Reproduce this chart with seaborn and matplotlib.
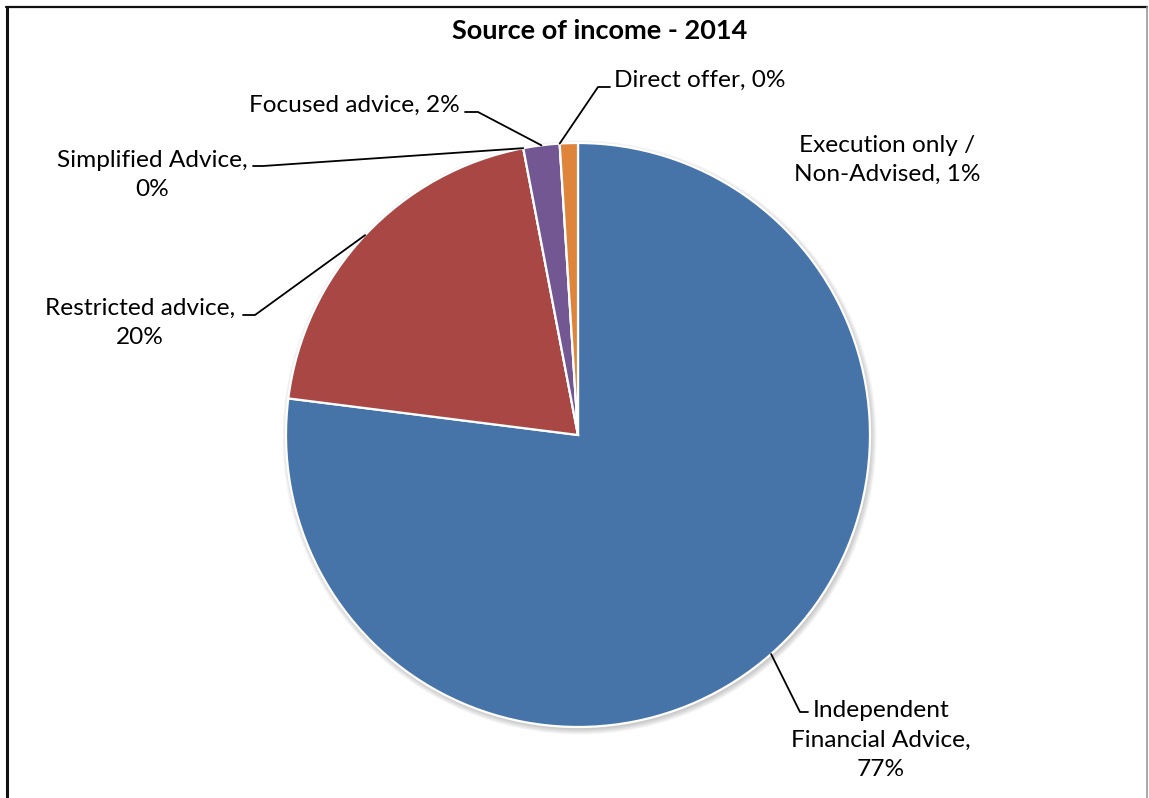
import matplotlib
matplotlib.use("Agg")
import matplotlib.pyplot as plt
from matplotlib.patches import Circle
from matplotlib.lines import Line2D
import numpy as np
import seaborn as sns

# ---- data ----
categories = [
    "Independent Financial Advice",
    "Restricted advice",
    "Simplified Advice",
    "Focused advice",
    "Direct offer",
    "Execution only / Non-Advised",
]
shares = [77, 20, 0, 2, 0, 1]
# how each category name is broken across lines in its label
label_names = [
    "Independent\nFinancial Advice",
    "Restricted advice",
    "Simplified Advice",
    "Focused advice",
    "Direct offer",
    "Execution only /\nNon-Advised",
]
value_breaks = ["\n", "\n", "\n", " ", " ", " "]
title = "Source of income - 2014"

# ---- style ----
sns.set_theme(style="white")
plt.rcParams["font.family"] = ["Lato", "DejaVu Sans"]
palette = sns.color_palette(["#4674A9", "#A94745", "#9BBB59", "#735792", "#4BACC6", "#DE853B"])

W, H = 1149, 798
fig = plt.figure(figsize=(W / 100, H / 100), dpi=100)
ax = fig.add_axes([0, 0, 1, 1])

cx, cy, R = 578, H - 435, 292

# soft drop shadow under the pie
for k in range(6):
    ax.add_patch(Circle((cx + 1.5, cy - 2.5), R + k, color="#000000", alpha=0.035,
                        lw=0, zorder=0))

wedges, _ = ax.pie(
    shares,
    colors=palette,
    startangle=90,
    counterclock=False,
    center=(cx, cy),
    radius=R,
    wedgeprops=dict(edgecolor="white", linewidth=1.6),
)
for w in wedges:
    w.set_zorder(2)

ax.set_xlim(0, W)
ax.set_ylim(0, H)
ax.set_aspect("equal")
ax.axis("off")

# label placement in pixel space (x, y from top); elbow / end of leader line
layout = [
    dict(text=(881, 740), ha="center", elbow=(800, 712), end=(808, 712)),
    dict(text=(140, 323), ha="center", elbow=(255, 315), end=(243, 315)),
    dict(text=(152, 175), ha="center", elbow=(263, 166), end=(253, 166)),
    dict(text=(460, 105), ha="right", elbow=(478, 112), end=(465, 112)),
    dict(text=(614, 80), ha="left", elbow=(598, 87), end=(610, 87)),
    dict(text=(887, 160), ha="center", elbow=None, end=None),
]

fs = 17.6
for w, name, brk, val, lay in zip(wedges, label_names, value_breaks, shares, layout):
    label = f"{name},{brk}{val}%"
    tx, ty = lay["text"]
    ax.text(tx, H - ty, label, ha=lay["ha"], va="center", fontsize=fs,
            color="black", linespacing=1.5, multialignment="center", zorder=5)
    if lay["elbow"] is not None:
        mid = np.deg2rad((w.theta1 + w.theta2) / 2)
        ax_pt = (cx + R * np.cos(mid), cy + R * np.sin(mid))
        ex, ey = lay["elbow"]
        nx, ny = lay["end"]
        ax.add_line(Line2D([ax_pt[0], ex, nx], [ax_pt[1], H - ey, H - ny],
                           color="black", lw=1.3, zorder=4))

ax.text(600, H - 31, title, ha="center", va="center", fontsize=19.5,
        fontweight="bold", color="black")

# chart frame
fig.add_artist(Line2D([7 / W, 7 / W], [0, 1 - 7 / H], color="#111111", lw=2.2,
                      transform=fig.transFigure))
fig.add_artist(Line2D([6 / W, 1147 / W], [1 - 7 / H, 1 - 7 / H], color="#111111",
                      lw=1.6, transform=fig.transFigure))
fig.add_artist(Line2D([1147 / W, 1147 / W], [0, 1 - 7 / H], color="#9a9a9a", lw=1.2,
                      transform=fig.transFigure))

fig.savefig("out.png", dpi=100, facecolor="white")
